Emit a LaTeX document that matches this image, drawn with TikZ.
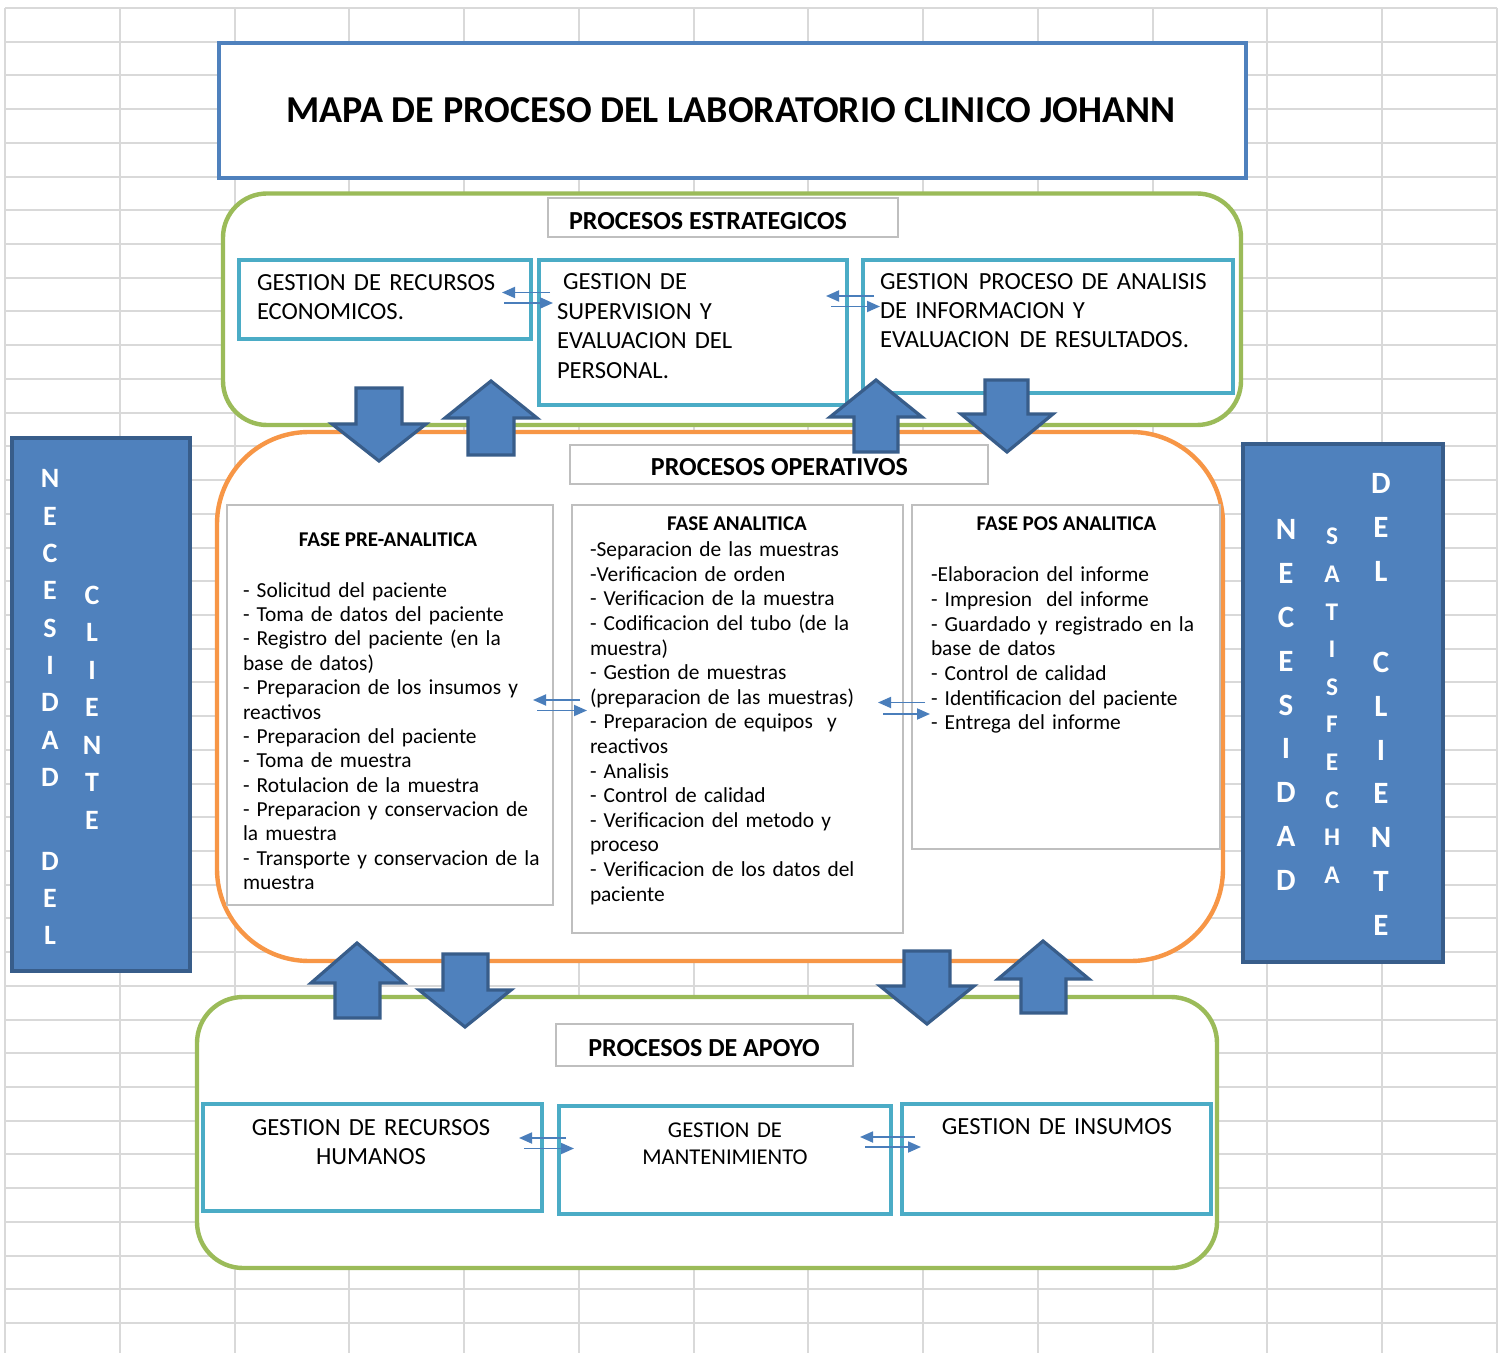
\documentclass[tikz,border=0pt]{standalone}
\usepackage{fontspec}
\setmainfont{Carlito}
\usetikzlibrary{arrows.meta,fit}

\definecolor{gridgray}{HTML}{D9D9D9}
\definecolor{mapblue}{HTML}{4F81BD}
\definecolor{mapblueedge}{HTML}{385D8A}
\definecolor{mapteal}{HTML}{4BACC6}
\definecolor{mapgreen}{HTML}{9BBB59}
\definecolor{maporange}{HTML}{F79646}
\definecolor{labelgray}{HTML}{BFBFBF}
\definecolor{linkblue}{HTML}{4A7EBB}

\tikzset{
  gridline/.style={draw=gridgray, line width=1pt},
  frame/.style={inner sep=0pt, outer sep=0pt},
  titlebox/.style={frame, draw=mapblue, line width=2pt, fill=white},
  groupbox/.style={frame, draw=#1, line width=2.2pt, fill=white},
  labelbox/.style={frame, draw=labelgray, line width=0.8pt, fill=white},
  procbox/.style={frame, draw=mapteal, line width=2.2pt, fill=white},
  sidebar/.style={frame, draw=mapblueedge, line width=2pt, fill=mapblue},
  blockarrow/.style={draw=mapblueedge, fill=mapblue, line width=1.6pt, line join=miter},
  linkarrow/.style={draw=linkblue, line width=0.9pt, -{Triangle[length=6.5pt,width=5.5pt]}},
  txt/.style={inner sep=0pt, outer sep=0pt},
  titletext/.style={txt, anchor=base, font=\fontsize{19}{23}\selectfont\bfseries},
  headtext/.style={txt, anchor=base, font=\fontsize{13}{16}\selectfont\bfseries},
  phasehead/.style={txt, anchor=base, font=\fontsize{10.5}{13}\selectfont\bfseries},
  boxtext/.style={txt, anchor=base west, text width=180pt, align=left, font=\fontsize{12.3}{#1}\selectfont},
  boxtextc/.style={txt, anchor=base, text width=170pt, align=center, font=\fontsize{12.3}{#1}\selectfont},
  listtext/.style={txt, anchor=base west, text width=160pt, align=left, font=\fontsize{10.7}{#1}\selectfont},
  sidecol/.style={txt, anchor=base, text width=24pt, align=center, text=white},
}

\begin{document}
\begin{tikzpicture}[x=0.5pt, y=-0.5pt]
\useasboundingbox (0,0) rectangle (1500,1353);
\fill[white] (0,0) rectangle (1500,1353);

% worksheet grid
\foreach \i in {0,...,39}
  \draw[gridline] (5,{8+33.72*\i}) -- (1497,{8+33.72*\i});
\foreach \i in {0,...,13}
  \draw[gridline] ({5+114.77*\i},8) -- ({5+114.77*\i},1353);

% side bars
\node[sidebar, fit={(12,438) (190,971)}] (leftbar) {};
\node[sidebar, fit={(1243,444) (1443,962)}] (rightbar) {};
\node[sidecol, font=\fontsize{14}{18.65}\selectfont\bfseries] (lcol1) at (50,488)
  {N\\E\\C\\E\\S\\I\\D\\A\\D\\[23.35pt]D\\E\\L};
\node[sidecol, font=\fontsize{14}{18.75}\selectfont\bfseries] (lcol2) at (92,604)
  {C\\L\\I\\E\\N\\T\\E};
\node[sidecol, font=\fontsize{15.5}{21.9}\selectfont\bfseries] (rcol1) at (1286,540)
  {N\\E\\C\\E\\S\\I\\D\\A\\D};
\node[sidecol, font=\fontsize{12.7}{18.8}\selectfont\bfseries] (rcol2) at (1332,545)
  {S\\A\\T\\I\\S\\F\\E\\C\\H\\A};
\node[sidecol, font=\fontsize{15.5}{21.9}\selectfont\bfseries] (rcol3) at (1381,494)
  {D\\E\\L\\[23.6pt]C\\L\\I\\E\\N\\T\\E};

% title
\node[titlebox, fit={(219,43) (1246,178)}] (titlebox) {};
\node[titletext] (title) at (731,122.7) {MAPA DE PROCESO DEL LABORATORIO CLINICO JOHANN};

% strategic processes
\node[groupbox=mapgreen, rounded corners=22pt, fit={(223,193.5) (1241,425)}] (strat) {};
\node[labelbox, fit={(548,198) (898,237)}] (stratlabelbox) {};
\node[headtext] (stratlabel) at (708,229.3) {PROCESOS ESTRATEGICOS};
\node[procbox, fit={(239,260) (531,339)}] (econ) {};
\node[procbox, fit={(539,260) (847,405)}] (super) {};
\node[procbox, fit={(863,260) (1233,393)}] (anal) {};
\node[boxtext=14.3pt] (econtext) at (257,290.7) {GESTION DE RECURSOS\\ECONOMICOS.};
\node[boxtext=14.7pt] (supertext) at (557,290) {\hspace{3pt}GESTION DE\\SUPERVISION Y\\EVALUACION DEL\\PERSONAL.};
\node[boxtext=14.5pt] (analtext) at (880,289.3) {GESTION\hspace{5pt}PROCESO DE ANALISIS\\DE INFORMACION Y\\EVALUACION\hspace{5pt}DE RESULTADOS.};

% operative processes
\node[groupbox=maporange, rounded corners=46pt, fit={(217,432) (1223,961)}] (oper) {};
\node[labelbox, fit={(570,445) (988,484)}] (operlabelbox) {};
\node[headtext] (operlabel) at (779.5,476) {PROCESOS OPERATIVOS};
\node[labelbox, fit={(227,505) (553,905)}] (pre) {};
\node[labelbox, fit={(572,505) (903,933)}] (ana) {};
\node[labelbox, fit={(912,505) (1220,849)}] (pos) {};
\node[phasehead] (prehead) at (388,546) {FASE PRE-ANALITICA};
\node[phasehead] (anahead) at (737,530.7) {FASE ANALITICA};
\node[phasehead] (poshead) at (1066.5,530.7) {FASE POS ANALITICA};
\node[listtext=12.2pt] (prelist) at (243,597) {- Solicitud del paciente\\
- Toma de datos del paciente\\
- Registro del paciente (en la\\
base de datos)\\
- Preparacion de los insumos y\\
reactivos\\
- Preparacion del paciente\\
- Toma de muestra\\
- Rotulacion de la muestra\\
- Preparacion y conservacion de\\
la muestra\\
- Transporte y conservacion de la\\
muestra};
\node[listtext=12.3pt] (analist) at (590,556.7) {-Separacion de las muestras\\
-Verificacion de orden\\
- Verificacion de la muestra\\
- Codificacion del tubo (de la\\
muestra)\\
- Gestion de muestras\\
(preparacion de las muestras)\\
- Preparacion de equipos\ \ y\\
reactivos\\
- Analisis\\
- Control de calidad\\
- Verificacion del metodo y\\
proceso\\
- Verificacion de los datos del\\
paciente};
\node[listtext=12.35pt] (poslist) at (931,581.7) {-Elaboracion del informe\\
- Impresion\ \ del informe\\
- Guardado y registrado en la\\
base de datos\\
- Control de calidad\\
- Identificacion del paciente\\
- Entrega del informe};

% support processes
\node[groupbox=mapgreen, rounded corners=23pt, fit={(197,997) (1217,1268)}] (supp) {};
\node[labelbox, fit={(556,1024) (853,1066)}] (supplabelbox) {};
\node[headtext] (supplabel) at (704,1056) {PROCESOS DE APOYO};
\node[procbox, fit={(203,1104) (542,1211)}] (human) {};
\node[procbox, fit={(559,1106) (891,1214)}] (maint) {};
\node[procbox, fit={(902,1104) (1211,1214)}] (insum) {};
\node[boxtextc=14.5pt] (humantext) at (371,1135) {GESTION DE RECURSOS\\HUMANOS};
\node[txt, anchor=base, text width=170pt, align=center, font=\fontsize{11.3}{13.5}\selectfont] (mainttext) at (725,1137) {GESTION DE\\MANTENIMIENTO};
\node[boxtextc=14.5pt] (insumtext) at (1057,1134) {GESTION DE INSUMOS};

% two-way links between neighbouring boxes
\coordinate (l1a) at (550,292.5);  \coordinate (l1b) at (502,292.5);
\coordinate (l1c) at (504,303);    \coordinate (l1d) at (553,303);
\coordinate (l2a) at (874,296);    \coordinate (l2b) at (826,296);
\coordinate (l2c) at (831,306.5);  \coordinate (l2d) at (880,306.5);
\coordinate (l3a) at (580,700);    \coordinate (l3b) at (533,700);
\coordinate (l3c) at (537,710.5);  \coordinate (l3d) at (587,710.5);
\coordinate (l4a) at (925,702.5);  \coordinate (l4b) at (878,702.5);
\coordinate (l4c) at (883,714);    \coordinate (l4d) at (930,714);
\coordinate (l5a) at (566,1138);   \coordinate (l5b) at (519,1138);
\coordinate (l5c) at (524,1148.5); \coordinate (l5d) at (574,1148.5);
\coordinate (l6a) at (915,1137);   \coordinate (l6b) at (860,1137);
\coordinate (l6c) at (865,1147);   \coordinate (l6d) at (921,1147);
\foreach \k in {1,...,6}{
  \draw[linkarrow] (l\k a) -- (l\k b);
  \draw[linkarrow] (l\k c) -- (l\k d);
}

% block arrows between the process groups
\draw[blockarrow] (356,388) -- (402,388) -- (402,424) -- (426,424) -- (379,461) -- (332,424) -- (356,424) -- cycle;
\draw[blockarrow] (491,381) -- (537,418) -- (514,418) -- (514,455) -- (468,455) -- (468,418) -- (445,418) -- cycle;
\draw[blockarrow] (876,380) -- (922,417) -- (898,417) -- (898,452) -- (854,452) -- (854,417) -- (830,417) -- cycle;
\draw[blockarrow] (985,380) -- (1028,380) -- (1028,414) -- (1053,414) -- (1007,452) -- (961,414) -- (985,414) -- cycle;
\draw[blockarrow] (357,943) -- (404,983) -- (380,983) -- (380,1018) -- (335,1018) -- (335,983) -- (311,983) -- cycle;
\draw[blockarrow] (443,954) -- (488,954) -- (488,990) -- (511,990) -- (465,1027) -- (419,990) -- (443,990) -- cycle;
\draw[blockarrow] (904,951) -- (950,951) -- (950,986) -- (974,986) -- (927,1024) -- (880,986) -- (904,986) -- cycle;
\draw[blockarrow] (1043,941) -- (1089,979) -- (1066,979) -- (1066,1013) -- (1021,1013) -- (1021,979) -- (998,979) -- cycle;
\end{tikzpicture}
\end{document}
